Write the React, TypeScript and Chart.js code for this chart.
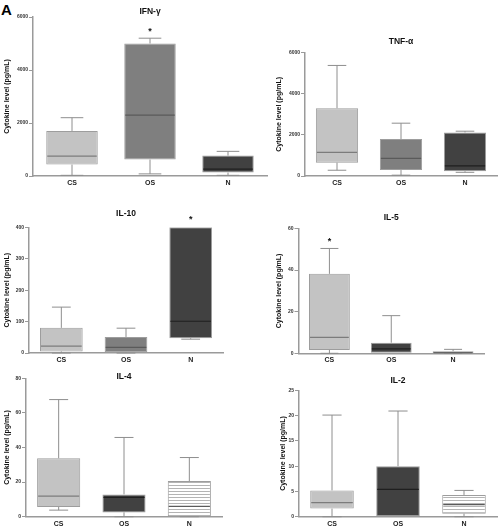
import React, { useEffect, useRef } from 'react';
import { Chart, registerables } from 'chart.js';

Chart.register(...registerables);
Chart.defaults.font.family = '"Liberation Sans", Arial, Helvetica, sans-serif';

const categories = ['CS', 'OS', 'N'];
const yAxisTitle = 'Cytokine level (pg/mL)';
const panelLetter = 'A';

// IFN-γ
const ifnTitle = 'IFN-γ';
const ifnMin = [25, 80, 25];
const ifnQ1 = [430, 620, 130];
const ifnMedian = [750, 2300, 260];
const ifnQ3 = [1700, 5000, 770];
const ifnMax = [2200, 5200, 930];
const ifnTicks = [0, 2000, 4000, 6000];
const ifnStar = [null, 5550, null];

// TNF-α
const tnfTitle = 'TNF-α';
const tnfMin = [280, 40, 180];
const tnfQ1 = [650, 290, 230];
const tnfMedian = [1150, 860, 490];
const tnfQ3 = [3300, 1800, 2120];
const tnfMax = [5380, 2570, 2180];
const tnfTicks = [0, 2000, 4000, 6000];
const tnfStar = [null, null, null];

// IL-10
const il10Title = 'IL-10';
const il10Min = [0, 0, 44];
const il10Q1 = [5, 2, 47];
const il10Median = [22, 18, 101];
const il10Q3 = [80, 51, 400];
const il10Max = [146, 79, 400];
const il10Ticks = [0, 100, 200, 300, 400];
const il10Star = [null, null, 432];

// IL-5
const il5Title = 'IL-5';
const il5Min = [0, 0, 0];
const il5Q1 = [1.6, 0, 0.1];
const il5Median = [7.7, 2.1, 0.3];
const il5Q3 = [38.2, 5.1, 1.0];
const il5Max = [50.4, 18.1, 1.9];
const il5Ticks = [0, 20, 40, 60];
const il5Star = [55, null, null];

// IL-4
const il4Title = 'IL-4';
const il4Min = [3.8, 0, 0];
const il4Q1 = [5.6, 2.5, 0.3];
const il4Median = [11.9, 11.2, 6];
const il4Q3 = [33.8, 12.9, 20.6];
const il4Max = [67.7, 45.8, 34.2];
const il4Ticks = [0, 20, 40, 60, 80];
const il4Star = [null, null, null];

// IL-2
const il2Title = 'IL-2';
const il2Min = [0, 0, 0];
const il2Q1 = [1.6, 0, 0.6];
const il2Median = [2.8, 5.4, 2.4];
const il2Q3 = [5.2, 10.0, 4.3];
const il2Max = [20.1, 20.9, 5.2];
const il2Ticks = [0, 5, 10, 15, 20, 25];
const il2Star = [null, null, null];

type Fill = 'light' | 'medium' | 'dark' | 'white' | 'striped';

interface Panel {
  title: string;
  min: number[];
  q1: number[];
  median: number[];
  q3: number[];
  max: number[];
  ticks: number[];
  star: (number | null)[];
  fills: Fill[];
  x0: number; x1: number; y0: number; y1: number;
  labelX: number;
  titleY: number;
}

const panels: Panel[] = [
  { title: ifnTitle, min: ifnMin, q1: ifnQ1, median: ifnMedian, q3: ifnQ3, max: ifnMax, ticks: ifnTicks, star: ifnStar,
    fills: ['light', 'medium', 'dark'], x0: 33, x1: 267, y0: 17, y1: 176, labelX: 7, titleY: 12 },
  { title: tnfTitle, min: tnfMin, q1: tnfQ1, median: tnfMedian, q3: tnfQ3, max: tnfMax, ticks: tnfTicks, star: tnfStar,
    fills: ['light', 'medium', 'dark'], x0: 305, x1: 497, y0: 52.7, y1: 176, labelX: 279, titleY: 42 },
  { title: il10Title, min: il10Min, q1: il10Q1, median: il10Median, q3: il10Q3, max: il10Max, ticks: il10Ticks, star: il10Star,
    fills: ['light', 'medium', 'dark'], x0: 29, x1: 223, y0: 227.3, y1: 353, labelX: 7, titleY: 214 },
  { title: il5Title, min: il5Min, q1: il5Q1, median: il5Median, q3: il5Q3, max: il5Max, ticks: il5Ticks, star: il5Star,
    fills: ['light', 'dark', 'white'], x0: 298.5, x1: 484, y0: 228.5, y1: 353.3, labelX: 279, titleY: 218 },
  { title: il4Title, min: il4Min, q1: il4Q1, median: il4Median, q3: il4Q3, max: il4Max, ticks: il4Ticks, star: il4Star,
    fills: ['light', 'dark', 'striped'], x0: 26, x1: 222, y0: 378.3, y1: 516.7, labelX: 7, titleY: 377 },
  { title: il2Title, min: il2Min, q1: il2Q1, median: il2Median, q3: il2Q3, max: il2Max, ticks: il2Ticks, star: il2Star,
    fills: ['light', 'dark', 'striped'], x0: 299, x1: 497, y0: 390.3, y1: 516.7, labelX: 283, titleY: 381 },
];

const FONT = '"Liberation Sans", Arial, Helvetica, sans-serif';
const AXIS_COLOR = '#9a9a9a';
const fillColors: Record<string, string> = {
  light: '#c3c3c3',
  medium: '#7f7f7f',
  dark: '#414141',
  white: '#ffffff',
};
const medianColors: Record<string, string> = {
  light: '#7c7c7c',
  medium: '#5a5a5a',
  dark: '#1f1f1f',
  white: '#666666',
  striped: '#5a5a5a',
};

function makeStripes(): CanvasPattern | string {
  const c = document.createElement('canvas');
  c.width = 4;
  c.height = 3;
  const g = c.getContext('2d');
  if (!g) return '#ffffff';
  g.fillStyle = '#ffffff';
  g.fillRect(0, 0, 4, 3);
  g.fillStyle = '#b4b4b4';
  g.fillRect(0, 0, 4, 1);
  const pat = g.createPattern(c, 'repeat');
  return pat || '#ffffff';
}

function BoxPanel({ panel }: { panel: Panel }) {
  const ref = useRef<HTMLCanvasElement>(null);
  const left = Math.max(0, Math.round(panel.labelX - 6));
  const top = Math.max(0, Math.round(panel.y0 - 22));
  const right = Math.round(panel.x1 + 4);
  const bottom = Math.round(panel.y1 + 16);
  const w = right - left;
  const h = bottom - top;

  useEffect(() => {
    if (!ref.current) return;
    const p = panel;
    const stripes = makeStripes();
    const bg = p.fills.map((f) => (f === 'striped' ? stripes : fillColors[f]));
    const yAxisWidth = p.x0 - left;
    const xAxisHeight = bottom - p.y1;
    const titleLine = 7 * 1.2;

    const extras = {
      id: 'boxExtras',
      afterDatasetsDraw(chart: any) {
        const ctx = chart.ctx as CanvasRenderingContext2D;
        const ys = chart.scales.y;
        const meta = chart.getDatasetMeta(0);
        ctx.save();
        meta.data.forEach((el: any, i: number) => {
          const x = el.x;
          const bw = el.width;
          const cap = bw * 0.22;
          const yq1 = ys.getPixelForValue(p.q1[i]);
          const yq3 = ys.getPixelForValue(p.q3[i]);
          const ymin = ys.getPixelForValue(p.min[i]);
          const ymax = ys.getPixelForValue(p.max[i]);
          ctx.strokeStyle = '#8e8e8e';
          ctx.lineWidth = 1;
          ctx.beginPath();
          if (p.max[i] > p.q3[i]) {
            ctx.moveTo(x, yq3);
            ctx.lineTo(x, ymax);
            ctx.moveTo(x - cap, ymax);
            ctx.lineTo(x + cap, ymax);
          }
          if (p.min[i] < p.q1[i]) {
            ctx.moveTo(x, yq1);
            ctx.lineTo(x, ymin);
            ctx.moveTo(x - cap, ymin);
            ctx.lineTo(x + cap, ymin);
          }
          ctx.stroke();
          const ym = ys.getPixelForValue(p.median[i]);
          ctx.strokeStyle = medianColors[p.fills[i]];
          ctx.lineWidth = 1.2;
          ctx.beginPath();
          ctx.moveTo(x - bw / 2 + 1, ym);
          ctx.lineTo(x + bw / 2 - 1, ym);
          ctx.stroke();
        });
        ctx.restore();
      },
      afterDraw(chart: any) {
        const ctx = chart.ctx as CanvasRenderingContext2D;
        const ca = chart.chartArea;
        const ys = chart.scales.y;
        const meta = chart.getDatasetMeta(0);
        ctx.save();
        ctx.fillStyle = '#111';
        ctx.font = `bold 8.5px ${FONT}`;
        ctx.textAlign = 'center';
        ctx.textBaseline = 'middle';
        ctx.fillText(p.title, (ca.left + ca.right) / 2, p.titleY - top);
        ctx.font = `bold 9px ${FONT}`;
        ctx.textBaseline = 'alphabetic';
        meta.data.forEach((el: any, i: number) => {
          const s = p.star[i];
          if (s === null || s === undefined) return;
          ctx.fillText('*', el.x, ys.getPixelForValue(s) + 0.56 * 9);
        });
        ctx.restore();
      },
    };

    const chart = new Chart(ref.current, {
      type: 'bar',
      data: {
        labels: categories,
        datasets: [
          {
            data: categories.map((_, i) => [p.q1[i], p.q3[i]]) as any,
            backgroundColor: bg as any,
            borderColor: '#9d9d9d',
            borderWidth: 1,
            borderSkipped: false,
            barPercentage: 0.66,
            categoryPercentage: 1,
          },
        ],
      },
      options: {
        responsive: false,
        maintainAspectRatio: false,
        animation: false,
        layout: {
          padding: { top: p.y0 - top, right: right - p.x1, bottom: 0, left: 0 },
        },
        plugins: {
          legend: { display: false },
          title: { display: false },
          tooltip: { enabled: false },
        },
        scales: {
          x: {
            type: 'category',
            offset: true,
            grid: { display: false, drawTicks: false },
            border: { display: true, color: AXIS_COLOR, width: 1.5 },
            ticks: { font: { size: 7, weight: 'bold' }, color: '#222', padding: 3, maxRotation: 0 },
            afterFit: (s: any) => { s.height = xAxisHeight; },
          },
          y: {
            type: 'linear',
            min: p.ticks[0],
            max: p.ticks[p.ticks.length - 1],
            afterBuildTicks: (s: any) => { s.ticks = p.ticks.map((v) => ({ value: v })); },
            ticks: {
              font: { size: 5, weight: 'bold' },
              color: '#333',
              padding: 1,
              callback: (v: any) => String(v),
            },
            grid: { drawOnChartArea: false, drawTicks: true, tickLength: 4, color: AXIS_COLOR, lineWidth: 1 },
            border: { display: true, color: AXIS_COLOR, width: 1.5 },
            title: {
              display: true,
              text: yAxisTitle,
              color: '#111',
              font: { size: 7, weight: 'bold' },
              padding: { top: p.labelX - left - titleLine / 2, bottom: 0 },
            },
            afterFit: (s: any) => { s.width = yAxisWidth; },
          },
        },
      },
      plugins: [extras],
    } as any);
    return () => chart.destroy();
  }, []);

  return (
    <canvas
      ref={ref}
      width={w}
      height={h}
      style={{ position: 'absolute', left, top, width: w, height: h }}
    />
  );
}

export default function App() {
  return (
    <div
      style={{
        position: 'fixed',
        left: 0,
        top: 0,
        width: 499,
        height: 527,
        overflow: 'hidden',
        background: '#ffffff',
      }}
    >
      <div
        style={{
          position: 'absolute',
          left: 1,
          top: 2,
          font: `bold 15px ${FONT}`,
          lineHeight: '15px',
          color: '#000',
        }}
      >
        {panelLetter}
      </div>
      {panels.map((p, i) => (
        <BoxPanel key={i} panel={p} />
      ))}
    </div>
  );
}
